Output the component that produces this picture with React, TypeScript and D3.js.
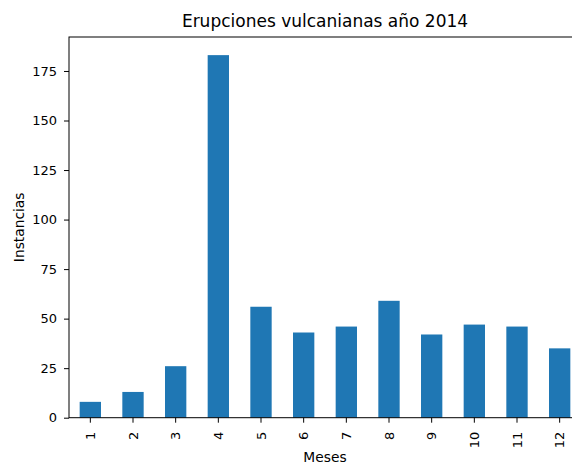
import React, { useRef, useEffect } from "react";
import { axisBottom, axisLeft, scaleBand, scaleLinear, select, max } from "d3";

const months = ["1", "2", "3", "4", "5", "6", "7", "8", "9", "10", "11", "12"];
const eruptions = [8, 13, 26, 183, 56, 43, 46, 59, 42, 47, 46, 35];
const yTicks = [0, 25, 50, 75, 100, 125, 150, 175];

const W = 572;
const H = 463;
const left = 69;
const right = 581;
const top = 37;
const bottom = 417.7;
const font = "DejaVu Sans, sans-serif";

function Chart() {
  const svgRef = useRef<SVGSVGElement>(null);

  useEffect(() => {
    const svg = select(svgRef.current);
    svg.selectAll("*").remove();

    const x = scaleBand<string>()
      .domain(months)
      .range([left, right])
      .paddingInner(0.5)
      .paddingOuter(0.25);
    const y = scaleLinear()
      .domain([0, (max(eruptions) as number) * 1.05])
      .range([bottom, top]);

    svg
      .append("g")
      .selectAll("rect")
      .data(eruptions)
      .enter()
      .append("rect")
      .attr("x", (_d, i) => x(months[i]) as number)
      .attr("width", x.bandwidth())
      .attr("y", (d) => y(d))
      .attr("height", (d) => bottom - y(d))
      .attr("fill", "#1f77b4");

    // frame (spines)
    svg
      .append("rect")
      .attr("x", left)
      .attr("y", top)
      .attr("width", right - left)
      .attr("height", bottom - top)
      .attr("fill", "none")
      .attr("stroke", "#000")
      .attr("stroke-width", 1);

    const gx = svg
      .append("g")
      .attr("transform", `translate(0,${bottom})`)
      .call(axisBottom(x).tickSize(5).tickSizeOuter(0));
    gx.select(".domain").remove();
    gx.selectAll("text")
      .attr("font-family", font)
      .attr("font-size", 13)
      .attr("fill", "#000")
      .attr("transform", "rotate(-90)")
      .attr("text-anchor", "end")
      .attr("x", -14)
      .attr("y", 0)
      .attr("dy", "0.35em");

    const gy = svg
      .append("g")
      .attr("transform", `translate(${left},0)`)
      .call(axisLeft(y).tickValues(yTicks).tickSize(5).tickPadding(7));
    gy.select(".domain").remove();
    gy.selectAll("text")
      .attr("font-family", font)
      .attr("font-size", 13)
      .attr("fill", "#000");

    svg
      .append("text")
      .text("Erupciones vulcanianas año 2014")
      .attr("x", (left + right) / 2)
      .attr("y", 27)
      .attr("text-anchor", "middle")
      .attr("font-family", font)
      .attr("font-size", 17)
      .attr("fill", "#000");

    svg
      .append("text")
      .text("Meses")
      .attr("x", (left + right) / 2)
      .attr("y", 461.5)
      .attr("text-anchor", "middle")
      .attr("font-family", font)
      .attr("font-size", 13.8)
      .attr("fill", "#000");

    svg
      .append("text")
      .text("Instancias")
      .attr("transform", `translate(24,${(top + bottom) / 2}) rotate(-90)`)
      .attr("text-anchor", "middle")
      .attr("font-family", font)
      .attr("font-size", 13.8)
      .attr("fill", "#000");
  }, []);

  return (
    <svg
      ref={svgRef}
      width={W}
      height={H}
      style={{ position: "absolute", left: 0, top: 0, background: "#fff" }}
    ></svg>
  );
}

export default function App() {
  return <Chart />;
}
